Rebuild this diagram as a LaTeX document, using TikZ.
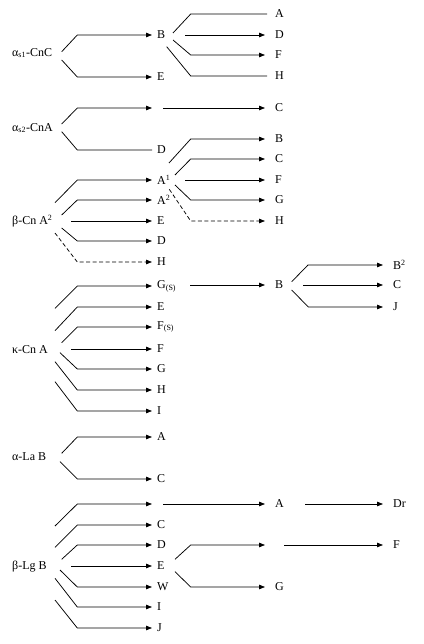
\documentclass[tikz,border=0pt]{standalone}
\usepackage{fontspec}
\setmainfont{Liberation Serif}
\usetikzlibrary{arrows.meta}
\begin{document}
\begin{tikzpicture}[x=1pt,y=-1pt,
  lbl/.style={anchor=west,inner sep=0pt,font=\fontsize{12}{14}\selectfont},
  ln/.style={line width=0.75pt},
  arr/.style={ln,-{Triangle[length=6pt,width=4.5pt]},shorten >=5pt},
  arrR/.style={ln,-{Triangle[length=6pt,width=4.5pt]},shorten >=10pt},
  plainR/.style={ln,shorten >=8pt},
  plain/.style={ln,shorten >=5pt},
  dsh/.style={dash pattern=on 4pt off 2.5pt}]
\useasboundingbox (0,0) rectangle (423,644);

% ---------- section 1
\node[lbl] (s1) at (12,53) {α\textsubscript{s1}-CnC};
\node[lbl] (B1) at (157,35) {B};
\node[lbl] (E1) at (157,77) {E};
\node[lbl] (A1r) at (275,14) {A};
\node[lbl] (D1r) at (275,35) {D};
\node[lbl] (F1r) at (275,55) {F};
\node[lbl] (H1r) at (275,76) {H};
\draw[arr] (61.7,51.7) -- (77.3,35) -- (B1.west);
\draw[arr] (61.7,60) -- (77.3,77) -- (E1.west);
\draw[plainR] (173,33) -- (190.7,14) -- (A1r.west);
\draw[arrR] (185,35) -- (D1r.west);
\draw[arrR] (173,40) -- (190.7,55) -- (F1r.west);
\draw[plainR] (166.7,46.7) -- (190.7,76) -- (H1r.west);

% ---------- section 2
\node[lbl] (s2) at (12,128) {α\textsubscript{s2}-CnA};
\coordinate (e2) at (157,108);
\node[lbl] (C2r) at (275,108) {C};
\node[lbl] (D2) at (157,150) {D};
\draw[arr] (61.7,124) -- (77.3,108) -- (e2);
\draw[arrR] (163,108) -- (C2r.west);
\draw[plain] (61.7,131.7) -- (77.3,150) -- (D2.west);

% ---------- section 3
\node[lbl] (s3) at (12,221) {β-Cn A\textsuperscript{2}};
\node[lbl] (A1) at (157,180) {A\textsuperscript{1}};
\node[lbl] (A2) at (157,200) {A\textsuperscript{2}};
\node[lbl] (E3) at (157,221) {E};
\node[lbl] (D3) at (157,241) {D};
\node[lbl] (H3) at (157,262) {H};
\node[lbl] (B3r) at (275,139) {B};
\node[lbl] (C3r) at (275,159) {C};
\node[lbl] (F3r) at (275,180) {F};
\node[lbl] (G3r) at (275,200) {G};
\node[lbl] (H3r) at (275,221) {H};
\draw[arr] (55,202.7) -- (77.3,180) -- (A1.west);
\draw[arr] (61.7,215) -- (77.3,200) -- (A2.west);
\draw[arr] (71,221) -- (E3.west);
\draw[arr] (61.7,228) -- (77.3,241) -- (D3.west);
\draw[arr,dsh] (55,233) -- (77.3,262) -- (H3.west);
\draw[arrR] (169,163) -- (190.7,139) -- (B3r.west);
\draw[arrR] (175,175) -- (190.7,159) -- (C3r.west);
\draw[arrR] (185,180) -- (F3r.west);
\draw[arrR] (175,185) -- (190.7,200) -- (G3r.west);
\draw[arrR,dsh] (169.3,189.3) -- (190.7,221) -- (H3r.west);

% ---------- section 4
\node[lbl] (s4) at (12,350) {κ-Cn A};
\node[lbl] (Gs) at (157,286) {G\textsubscript{(S)}};
\node[lbl] (E4) at (157,307) {E};
\node[lbl] (Fs) at (157,327) {F\textsubscript{(S)}};
\node[lbl] (F4) at (157,349) {F};
\node[lbl] (G4) at (157,369) {G};
\node[lbl] (H4) at (157,390) {H};
\node[lbl] (I4) at (157,411) {I};
\node[lbl] (B4) at (275,285) {B};
\node[lbl] (B2r) at (393,265) {B\textsuperscript{2}};
\node[lbl] (C4r) at (393,285) {C};
\node[lbl] (J4r) at (393,307) {J};
\draw[arr] (55,308.3) -- (77.3,286) -- (Gs.west);
\draw[arr] (55,330.7) -- (77.3,307) -- (E4.west);
\draw[arr] (61.7,342.7) -- (77.3,327) -- (Fs.west);
\draw[arr] (71,349) -- (F4.west);
\draw[arr] (60,352.7) -- (77.3,369) -- (G4.west);
\draw[arr] (55,361.7) -- (77.3,390) -- (H4.west);
\draw[arr] (55,381.7) -- (77.3,411) -- (I4.west);
\draw[arrR] (190,285) -- (B4.west);
\draw[arrR] (291.7,281.7) -- (308,265) -- (B2r.west);
\draw[arrR] (303,285) -- (C4r.west);
\draw[arrR] (291.7,290) -- (308.3,307) -- (J4r.west);

% ---------- section 5
\node[lbl] (s5) at (12,457) {α-La B};
\node[lbl] (A5) at (157,437) {A};
\node[lbl] (C5) at (157,479) {C};
\draw[arr] (61.7,453.3) -- (77.3,437) -- (A5.west);
\draw[arr] (60,461.7) -- (77.3,479) -- (C5.west);

% ---------- section 6
\node[lbl] (s6) at (12,567) {β-Lg B};
\coordinate (e6) at (157,504);
\node[lbl] (C6) at (157,525) {C};
\node[lbl] (D6) at (157,545) {D};
\node[lbl] (E6) at (157,566) {E};
\node[lbl] (W6) at (157,587) {W};
\node[lbl] (I6) at (157,607) {I};
\node[lbl] (J6) at (157,628) {J};
\node[lbl] (A6) at (275,504) {A};
\node[lbl] (Dr) at (393,504) {Dr};
\coordinate (e6b) at (275,545);
\node[lbl] (F6) at (393,545) {F};
\node[lbl] (G6) at (275,587) {G};
\draw[arr] (55,526) -- (77.3,504) -- (e6);
\draw[arr] (55,547.3) -- (77.3,525) -- (C6.west);
\draw[arr] (61.7,559.3) -- (77.3,545) -- (D6.west);
\draw[arr] (71,566) -- (E6.west);
\draw[arr] (60,570) -- (77.3,587) -- (W6.west);
\draw[arr] (55,578.3) -- (77.3,607) -- (I6.west);
\draw[arr] (55,600) -- (77.3,628) -- (J6.west);
\draw[arrR] (163,504) -- (A6.west);
\draw[arrR] (305,504) -- (Dr.west);
\draw[arrR] (175,559.3) -- (190.7,545) -- (e6b);
\draw[arrR] (284,545) -- (F6.west);
\draw[arrR] (175,571.7) -- (190.7,587) -- (G6.west);
\end{tikzpicture}
\end{document}
